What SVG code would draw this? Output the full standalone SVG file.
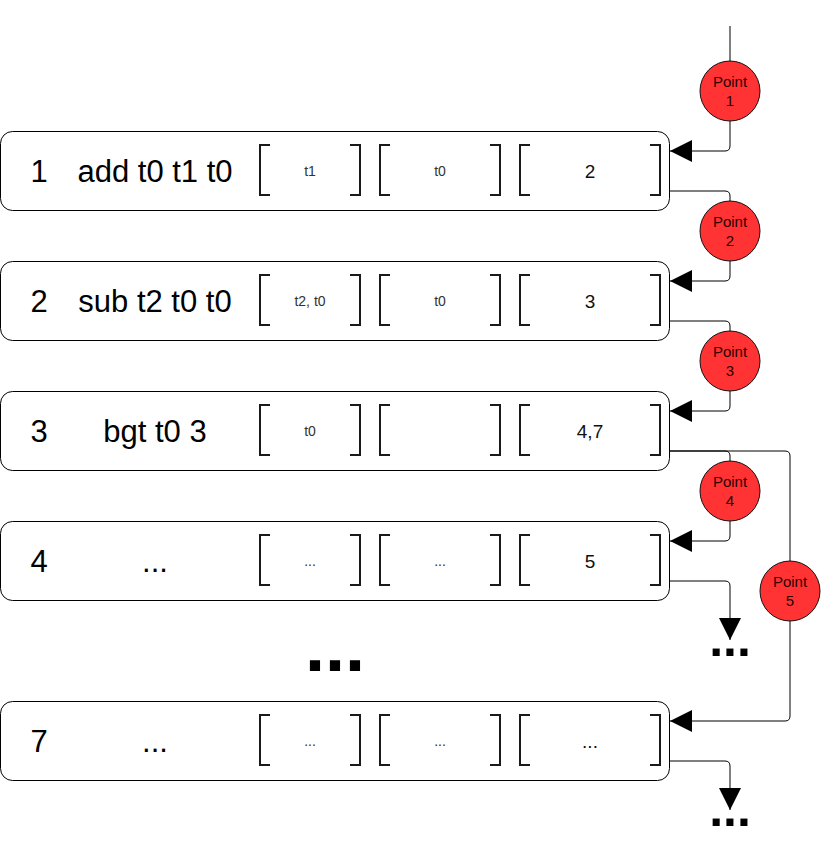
<svg xmlns="http://www.w3.org/2000/svg" width="821" height="842" viewBox="0 0 821 842">
<style>
.box{fill:#fff;stroke:#000;stroke-width:1}
.br{fill:none;stroke:#1a1a1a;stroke-width:2}
.big{font-family:"Liberation Sans",Arial,sans-serif;font-size:31px;fill:#000;text-anchor:middle}
.sm{font-family:"Liberation Sans",Arial,sans-serif;font-size:14px;fill:#333;text-anchor:middle}
.md{font-family:"Liberation Sans",Arial,sans-serif;font-size:19px;fill:#111;text-anchor:middle}
.pt{fill:#ff3333;stroke:#111;stroke-width:1}
.ptt{font-family:"Liberation Sans",Arial,sans-serif;font-size:15px;fill:#2a0000;text-anchor:middle}
.con{fill:none;stroke:#000;stroke-width:1}
.dots{font-family:"Liberation Sans",Arial,sans-serif;font-weight:bold;fill:#000;text-anchor:middle}
</style>
<defs>
<marker id="ah" viewBox="0 0 22 22" markerUnits="userSpaceOnUse" markerWidth="22" markerHeight="22" refX="22" refY="11" orient="auto">
<path d="M0,0 L22,11 L0,22 z" fill="#000"/>
</marker>
</defs>
<g id="connectors">
<path class="con" d="M730,26 V146 Q730,151 725,151 H670" marker-end="url(#ah)"/>
<path class="con" d="M670,191 H725 Q730,191 730,196 V276 Q730,281 725,281 H670" marker-end="url(#ah)"/>
<path class="con" d="M670,321 H725 Q730,321 730,326 V406 Q730,411 725,411 H670" marker-end="url(#ah)"/>
<path class="con" d="M670,451 H725 Q730,451 730,456 V536 Q730,541 725,541 H670" marker-end="url(#ah)"/>
<path class="con" d="M670,451 H785 Q790,451 790,456 V716 Q790,721 785,721 H670" marker-end="url(#ah)"/>
<path class="con" d="M670,581 H725 Q730,581 730,586 V640" marker-end="url(#ah)"/>
<path class="con" d="M670,761 H725 Q730,761 730,766 V810" marker-end="url(#ah)"/>
</g>
<g id="row1">
<rect class="box" x="0.5" y="131.5" width="669" height="79" rx="12"/>
<path class="br" d="M270,145 H260 V195 H270 M350,145 H360 V195 H350 M390,145 H380 V195 H390 M490,145 H500 V195 H490 M530,145 H520 V195 H530 M650,145 H660 V195 H650"/>
<text class="big" x="39" y="182">1</text>
<text class="big" x="155" y="182">add t0 t1 t0</text>
<text class="sm" x="310" y="176">t1</text>
<text class="sm" x="440" y="176">t0</text>
<text class="md" x="590" y="178">2</text>
</g>
<g id="row2">
<rect class="box" x="0.5" y="261.5" width="669" height="79" rx="12"/>
<path class="br" d="M270,275 H260 V325 H270 M350,275 H360 V325 H350 M390,275 H380 V325 H390 M490,275 H500 V325 H490 M530,275 H520 V325 H530 M650,275 H660 V325 H650"/>
<text class="big" x="39" y="312">2</text>
<text class="big" x="155" y="312">sub t2 t0 t0</text>
<text class="sm" x="310" y="306">t2, t0</text>
<text class="sm" x="440" y="306">t0</text>
<text class="md" x="590" y="308">3</text>
</g>
<g id="row3">
<rect class="box" x="0.5" y="391.5" width="669" height="79" rx="12"/>
<path class="br" d="M270,405 H260 V455 H270 M350,405 H360 V455 H350 M390,405 H380 V455 H390 M490,405 H500 V455 H490 M530,405 H520 V455 H530 M650,405 H660 V455 H650"/>
<text class="big" x="39" y="442">3</text>
<text class="big" x="155" y="442">bgt t0 3</text>
<text class="sm" x="310" y="436">t0</text>
<text class="md" x="590" y="438">4,7</text>
</g>
<g id="row4">
<rect class="box" x="0.5" y="521.5" width="669" height="79" rx="12"/>
<path class="br" d="M270,535 H260 V585 H270 M350,535 H360 V585 H350 M390,535 H380 V585 H390 M490,535 H500 V585 H490 M530,535 H520 V585 H530 M650,535 H660 V585 H650"/>
<text class="big" x="39" y="572">4</text>
<text class="big" x="155" y="572">...</text>
<text class="sm" x="310" y="566">...</text>
<text class="sm" x="440" y="566">...</text>
<text class="md" x="590" y="568">5</text>
</g>
<g id="row7">
<rect class="box" x="0.5" y="701.5" width="669" height="79" rx="12"/>
<path class="br" d="M270,715 H260 V765 H270 M350,715 H360 V765 H350 M390,715 H380 V765 H390 M490,715 H500 V765 H490 M530,715 H520 V765 H530 M650,715 H660 V765 H650"/>
<text class="big" x="39" y="752">7</text>
<text class="big" x="155" y="752">...</text>
<text class="sm" x="310" y="746">...</text>
<text class="sm" x="440" y="746">...</text>
<text class="md" x="590" y="748">...</text>
</g>
<g id="point1"><circle class="pt" cx="730" cy="91" r="30"/><text class="ptt" x="730" y="87">Point</text><text class="ptt" x="730" y="106">1</text></g>
<g id="point2"><circle class="pt" cx="730" cy="231" r="30"/><text class="ptt" x="730" y="227">Point</text><text class="ptt" x="730" y="246">2</text></g>
<g id="point3"><circle class="pt" cx="730" cy="361" r="30"/><text class="ptt" x="730" y="357">Point</text><text class="ptt" x="730" y="376">3</text></g>
<g id="point4"><circle class="pt" cx="730" cy="491" r="30"/><text class="ptt" x="730" y="487">Point</text><text class="ptt" x="730" y="506">4</text></g>
<g id="point5"><circle class="pt" cx="790" cy="591" r="30"/><text class="ptt" x="790" y="587">Point</text><text class="ptt" x="790" y="606">5</text></g>
<g id="ellipsis-mid"><text class="dots" x="335" y="671" font-size="72">...</text></g>
<g id="ellipsis-r4"><text class="dots" x="730" y="656" font-size="50">...</text></g>
<g id="ellipsis-r7"><text class="dots" x="730" y="826" font-size="50">...</text></g>
</svg>
